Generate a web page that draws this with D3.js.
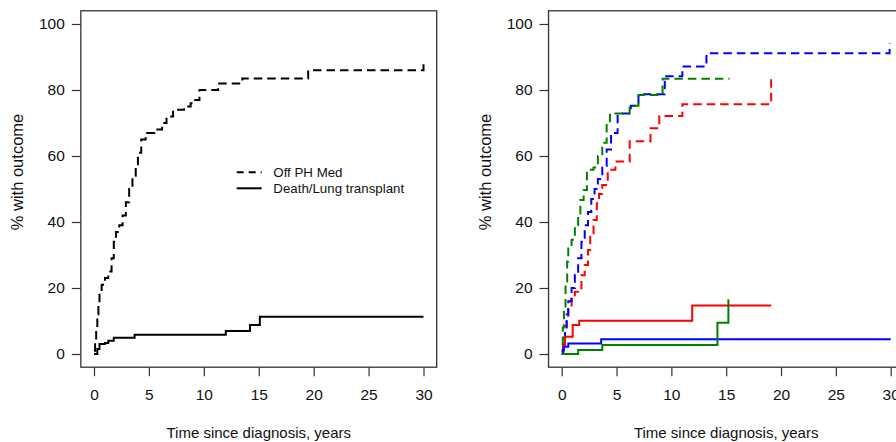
<!DOCTYPE html>
<html>
<head>
<meta charset="utf-8">
<script src="https://cdn.jsdelivr.net/npm/d3@7"></script>
<style>
  body { margin: 0; background: #fff; }
  svg text { font-family: "Liberation Sans", Arial, sans-serif; fill: #111; }
</style>
</head>
<body>
<div></div>
<script>
const width = 896;
const height = 442;

const xTicks = [0, 5, 10, 15, 20, 25, 30];
const yTicks = [0, 20, 40, 60, 80, 100];
const xTitle = "Time since diagnosis, years";
const yTitle = "% with outcome";
const legendLabels = ["Off PH Med", "Death/Lung transplant"];

// left panel, all patients
const offMedTime = [0, 0.1, 0.2, 0.3, 0.4, 0.5, 0.7, 1.0, 1.3, 1.6, 1.8, 2.0, 2.3, 2.6, 2.9, 3.2, 3.5, 3.8, 4.0, 4.3, 4.7, 5.5, 6.2, 6.6, 7.2, 8.2, 8.8, 9.1, 9.6, 11.3, 13.5, 19.5, 30];
const offMedPct = [1, 4, 8, 12, 16, 19, 21, 23, 25, 29, 34, 37, 39, 42, 46, 50, 54, 57, 61, 65, 67, 68, 70, 72, 74, 75, 76, 77, 80, 82, 83.5, 86, 88.5];
const deathTime = [0, 0.3, 0.5, 1.0, 1.3, 1.8, 3.7, 12.0, 14.2, 15.1, 30];
const deathPct = [0, 1.5, 3, 3.3, 4, 4.9, 5.8, 7.0, 8.8, 11.3, 11.3];

// right panel, by group
const redOffTime = [0, 0.15, 0.3, 0.45, 0.6, 0.9, 1.2, 1.5, 1.8, 2.1, 2.4, 2.6, 2.9, 3.2, 3.4, 3.7, 4.2, 4.9, 6.2, 8.1, 8.9, 11.0, 19.1];
const redOffPct = [1, 5, 8.3, 11, 14.3, 16.9, 18.9, 19.9, 23.9, 27, 31.5, 36.6, 40.6, 45.7, 48.5, 51.2, 55.8, 58.3, 64.5, 68.4, 72.1, 75.7, 83.5];
const blueOffTime = [0, 0.15, 0.3, 0.45, 0.6, 0.9, 1.2, 1.5, 1.8, 2.1, 2.4, 2.7, 3.0, 3.3, 3.7, 4.1, 4.5, 5.1, 6.3, 7.0, 9.4, 11.0, 13.2, 29.9];
const blueOffPct = [1, 4, 8, 12, 16, 20, 24, 29, 34, 39, 43, 47, 50, 53, 57, 62, 67, 72.9, 75.2, 78.7, 84.2, 87.1, 91.1, 94.1];
const greenOffTime = [0, 0.1, 0.2, 0.35, 0.5, 0.6, 0.9, 1.2, 1.5, 1.7, 2.0, 2.3, 2.9, 3.3, 3.7, 4.1, 4.4, 6.2, 7.0, 9.2, 15.3];
const greenOffPct = [3, 8, 14, 22, 28, 32, 34.6, 39, 42.6, 46.7, 49.7, 55.8, 56.5, 60, 64, 69.9, 72.9, 75.2, 78.5, 83.4, 83.4];

const redDeathTime = [0, 0.15, 0.3, 1.0, 1.6, 11.9, 19.1];
const redDeathPct = [0, 2.5, 5.2, 8.8, 10.1, 14.7, 14.7];
const blueDeathTime = [0, 0.1, 0.2, 0.6, 3.6, 30];
const blueDeathPct = [0, 1.2, 2.2, 3.2, 4.5, 4.5];
const greenDeathTime = [0, 1.5, 3.7, 14.2, 15.2];
const greenDeathPct = [0, 1.2, 2.7, 9.5, 16.6];

const dash = "8.5,5";

const svg = d3
  .select("div")
  .append("svg")
  .attr("width", width)
  .attr("height", height);

const toPoints = (ts, vs) => ts.map((t, i) => [t, vs[i]]);

function drawPanel(left, right, yLabelX, series) {
  const x = d3.scaleLinear().domain([0, 30]).range([left, right]);
  const y = d3.scaleLinear().domain([0, 100]).range([354, 24]);

  // R style: box extends 4% beyond the data range
  const bx0 = x(-1.2), bx1 = x(31.2), by0 = y(104), by1 = y(-4);

  const g = svg.append("g");

  g.append("rect")
    .attr("x", bx0)
    .attr("y", by0)
    .attr("width", bx1 - bx0)
    .attr("height", by1 - by0)
    .attr("fill", "none")
    .attr("stroke", "#333")
    .attr("stroke-width", 1.3);

  const xAxis = g
    .append("g")
    .attr("transform", "translate(0," + by1 + ")")
    .call(d3.axisBottom(x).tickValues(xTicks).tickSize(9).tickPadding(13).tickSizeOuter(0));
  xAxis.select(".domain").remove();

  const yAxis = g
    .append("g")
    .attr("transform", "translate(" + bx0 + ",0)")
    .call(d3.axisLeft(y).tickValues(yTicks).tickSize(9).tickPadding(7).tickSizeOuter(0));
  yAxis.select(".domain").remove();

  g.selectAll(".tick line").attr("stroke", "#333").attr("stroke-width", 1.2);
  g.selectAll(".tick text").attr("font-size", "15.5px").attr("fill", "#111");

  g.append("text")
    .attr("x", (bx0 + bx1) / 2)
    .attr("y", 438)
    .attr("text-anchor", "middle")
    .attr("font-size", "15px")
    .text(xTitle);

  g.append("text")
    .attr("transform", "translate(" + yLabelX + ",172) rotate(-90)")
    .attr("text-anchor", "middle")
    .attr("dy", "0.35em")
    .attr("font-size", "16.5px")
    .text(yTitle);

  const line = d3
    .line()
    .x((d) => x(d[0]))
    .y((d) => y(d[1]))
    .curve(d3.curveStepAfter);

  g.selectAll("path.km")
    .data(series)
    .enter()
    .append("path")
    .attr("class", "km")
    .attr("d", (d) => line(d.points))
    .attr("fill", "none")
    .attr("stroke", (d) => d.color)
    .attr("stroke-width", 2)
    .attr("stroke-dasharray", (d) => (d.dashed ? dash : null));

  return { x, y, g };
}

drawPanel(94, 423.5, 17, [
  { points: toPoints(offMedTime, offMedPct), color: "#000", dashed: true },
  { points: toPoints(deathTime, deathPct), color: "#000", dashed: false },
]);

drawPanel(561.7, 890.7, 485, [
  { points: toPoints(redOffTime, redOffPct), color: "#ff0000", dashed: true },
  { points: toPoints(blueOffTime, blueOffPct), color: "#0000ff", dashed: true },
  { points: toPoints(greenOffTime, greenOffPct), color: "#008000", dashed: true },
  { points: toPoints(redDeathTime, redDeathPct), color: "#ff0000", dashed: false },
  { points: toPoints(blueDeathTime, blueDeathPct), color: "#0000ff", dashed: false },
  { points: toPoints(greenDeathTime, greenDeathPct), color: "#008000", dashed: false },
]);

// legend in the left panel
const legend = svg
  .append("g")
  .attr("transform", "translate(236.7,172.3)");

legend
  .selectAll("line")
  .data(legendLabels)
  .enter()
  .append("line")
  .attr("x1", 0)
  .attr("x2", 25)
  .attr("y1", (d, i) => i * 16)
  .attr("y2", (d, i) => i * 16)
  .attr("stroke", "#000")
  .attr("stroke-width", 2)
  .attr("stroke-dasharray", (d, i) => (i === 0 ? "7,5" : null));

legend
  .selectAll("text")
  .data(legendLabels)
  .enter()
  .append("text")
  .attr("x", 36.6)
  .attr("y", (d, i) => i * 16)
  .attr("dy", "0.35em")
  .attr("font-size", "13.3px")
  .text((d) => d);
</script>
</body>
</html>
